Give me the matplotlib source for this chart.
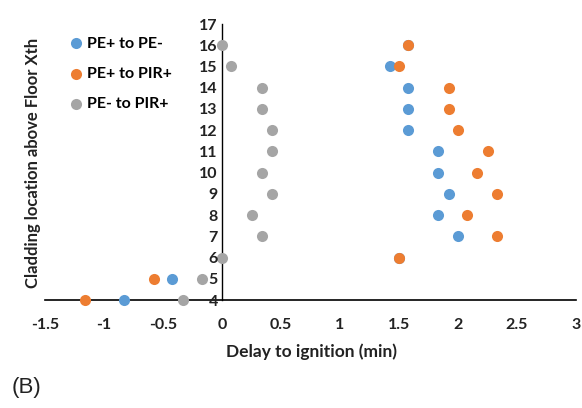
import matplotlib
matplotlib.use("Agg")
import matplotlib.pyplot as plt

floors = [16, 15, 14, 13, 12, 11, 10, 9, 8, 7, 6, 5, 4]
pe_plus_to_pe_minus = [1.58, 1.42, 1.58, 1.58, 1.58, 1.83, 1.83, 1.92, 1.83, 2.0, 1.5, -0.42, -0.83]
pe_plus_to_pir_plus = [1.58, 1.5, 1.92, 1.92, 2.0, 2.25, 2.16, 2.33, 2.08, 2.33, 1.5, -0.58, -1.16]
pe_minus_to_pir_plus = [0.0, 0.08, 0.34, 0.34, 0.42, 0.42, 0.34, 0.42, 0.25, 0.34, 0.0, -0.17, -0.33]
series_names = ["PE+ to PE-", "PE+ to PIR+", "PE- to PIR+"]
colors = ["#5B9BD5", "#ED7D31", "#A5A5A5"]
x_ticks = [-1.5, -1, -0.5, 0, 0.5, 1, 1.5, 2, 2.5, 3]
x_tick_labels = ["-1.5", "-1", "-0.5", "0", "0.5", "1", "1.5", "2", "2.5", "3"]
y_ticks = list(range(4, 18))

plt.rcParams['font.family'] = ['Lato', 'DejaVu Sans']

fig = plt.figure(figsize=(5.82, 4.08), dpi=100)
ax = fig.add_axes([45/582, 1-300/408, (576-45)/582, (300-24)/408])

for vals, name, c in zip([pe_plus_to_pe_minus, pe_plus_to_pir_plus, pe_minus_to_pir_plus], series_names, colors):
    ax.scatter(vals, floors, s=64, color=c, label=name, zorder=3, linewidths=0, clip_on=False)

ax.set_xlim(-1.5, 3)
ax.set_ylim(4, 17)
ax.spines['left'].set_position(('data', 0))
ax.spines['right'].set_visible(False)
ax.spines['top'].set_visible(False)
ax.spines['left'].set_color('black')
ax.spines['bottom'].set_color('black')
ax.spines['left'].set_linewidth(1.0)
ax.spines['bottom'].set_linewidth(1.2)
ax.yaxis.set_zorder(4)

ax.set_xticks(x_ticks)
ax.set_xticklabels(x_tick_labels, fontsize=11.5, fontweight='bold', color='#222222')
ax.set_yticks(y_ticks)
ax.set_yticklabels([str(v) for v in y_ticks], fontsize=11.5, fontweight='bold', color='#222222')
ax.tick_params(axis='both', length=0)
ax.tick_params(axis='x', pad=13)
ax.tick_params(axis='y', pad=3)

fig.text(311/582, 1-352/408, "Delay to ignition (min)", ha='center', va='center',
         fontsize=12.5, fontweight='bold', color='#222222')
fig.text(33/582, 1-163/408, "Cladding location above Floor Xth", ha='center', va='center',
         rotation=90, fontsize=12, fontweight='bold', color='#222222')
fig.text(12/582, 1-388/408, "(B)", ha='left', va='center', fontsize=16,
         family=['Liberation Sans', 'DejaVu Sans'], color='#222222')

leg = ax.legend(loc='upper left', bbox_to_anchor=(60/582, 1-30/408), bbox_transform=fig.transFigure,
                frameon=False, handletextpad=0.1, labelspacing=1.0, borderaxespad=0,
                prop={'size': 11.5, 'weight': 'bold'}, handlelength=1.2, scatterpoints=1)

fig.savefig("out.png", dpi=100)
